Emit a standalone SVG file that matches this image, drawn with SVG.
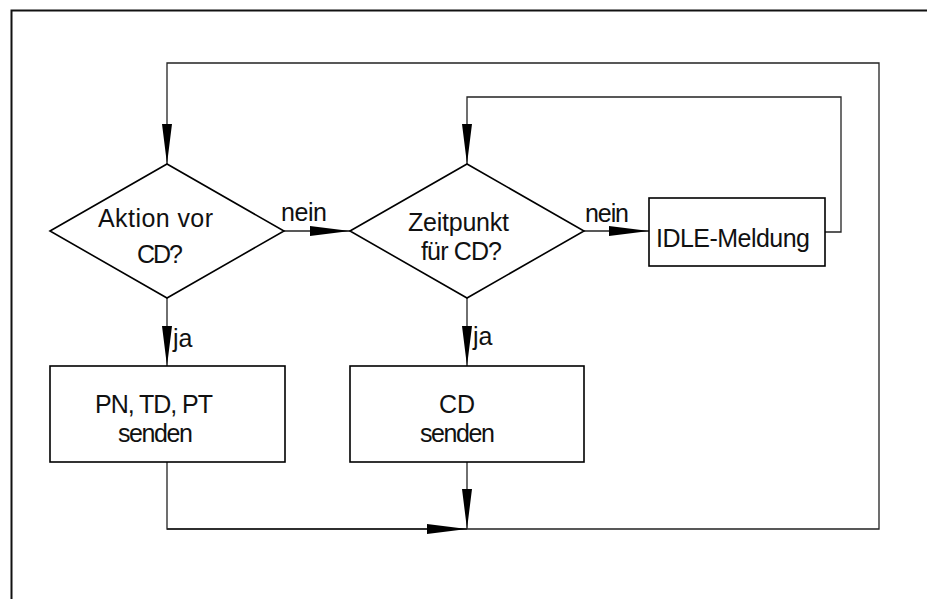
<svg xmlns="http://www.w3.org/2000/svg" width="927" height="599" viewBox="0 0 927 599">
<defs>
<marker id="ah" viewBox="0 0 40 10" refX="40" refY="5" markerWidth="40" markerHeight="10" markerUnits="userSpaceOnUse" orient="auto">
<path d="M0,0 L40,5 L0,10 Z" fill="#000"/>
</marker>
<style>
.shape{fill:#fff;stroke:#000;stroke-width:1.6}
.conn{fill:none;stroke:#222;stroke-width:1.3}
.frame{fill:none;stroke:#111;stroke-width:2}
text{font-family:"Liberation Sans",Arial,sans-serif;font-size:25px;fill:#111}
.mid{text-anchor:middle}
</style>
</defs>
<rect width="927" height="599" fill="#fff"/>
<path class="frame" d="M11.5,599 V10.5 H927"/>
<g id="connectors">
<path class="conn" d="M167,462 V529 H879 V63 H167 V164" marker-end="url(#ah)"/>
<path class="conn" d="M825,232 H841 V97 H467 V164" marker-end="url(#ah)"/>
<path class="conn" d="M167,529 H467" marker-end="url(#ah)"/>
<path class="conn" d="M467,462 V529" marker-end="url(#ah)"/>
<path class="conn" d="M284,231 H350" marker-end="url(#ah)"/>
<path class="conn" d="M584,231 H649" marker-end="url(#ah)"/>
<path class="conn" d="M167,298 V366" marker-end="url(#ah)"/>
<path class="conn" d="M467,298 V366" marker-end="url(#ah)"/>
<text x="281" y="221" textLength="46">nein</text>
<text x="585" y="222" textLength="44">nein</text>
<text x="173" y="347">ja</text>
<text x="473" y="345">ja</text>
</g>
<g id="d1">
<path class="shape" d="M50,231 L167,164 L284,231 L167,298 Z"/>
<text x="98" y="227" textLength="115">Aktion vor</text>
<text x="137" y="263" textLength="46">CD?</text>
</g>
<g id="d2">
<path class="shape" d="M350,231 L467,164 L584,231 L467,298 Z"/>
<text x="408" y="231" textLength="101">Zeitpunkt</text>
<text x="421" y="260" textLength="81">für CD?</text>
</g>
<g id="idle">
<rect class="shape" x="649" y="198" width="176" height="68"/>
<text x="656" y="247" textLength="154">IDLE-Meldung</text>
</g>
<g id="b1">
<rect class="shape" x="50" y="366" width="235" height="96"/>
<text x="95" y="413" textLength="118">PN, TD, PT</text>
<text x="118" y="442" textLength="75">senden</text>
</g>
<g id="b2">
<rect class="shape" x="350" y="366" width="234" height="96"/>
<text x="439" y="413" textLength="36">CD</text>
<text x="420" y="442" textLength="75">senden</text>
</g>
</svg>
